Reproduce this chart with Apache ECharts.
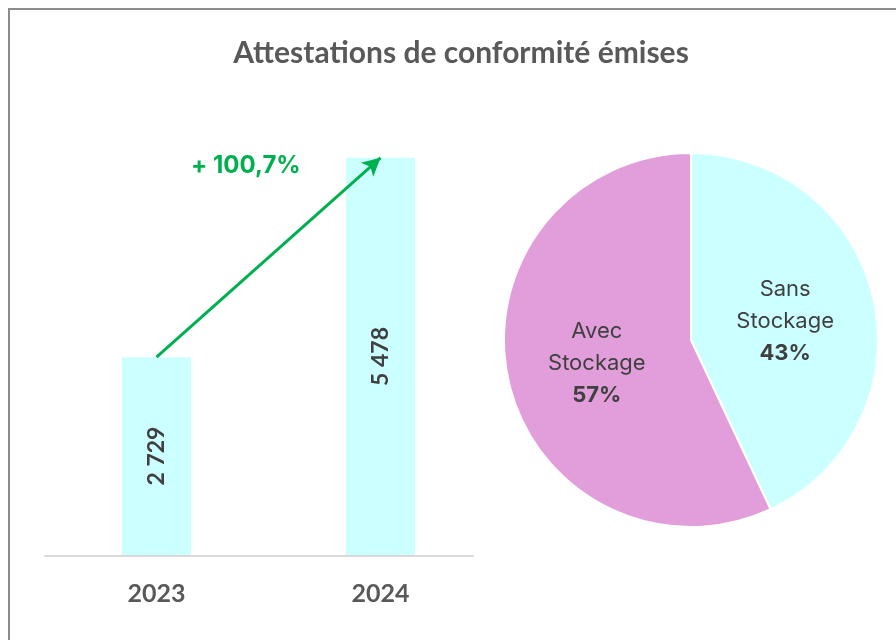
<!DOCTYPE html>
<html>
<head>
<meta charset="utf-8">
<script src="https://cdn.jsdelivr.net/npm/echarts@6/dist/echarts.min.js"></script>
<style>
  html, body { margin: 0; padding: 0; background: #ffffff; }
  #chart { width: 896px; height: 640px; }
</style>
</head>
<body>
<div id="chart"></div>
<script>
// Attestations issued per year
const years = ['2023', '2024'];
const attestations = [2729, 5478];

// Split of attestations by storage type (percent)
const storageLabels = ['Sans\nStockage', 'Avec\nStockage'];
const storageShares = [43, 57];

const titleText = 'Attestations de conformité émises';

const fmtThousands = v => String(v).replace(/\B(?=(\d{3})+(?!\d))/g, ' ');
const growth = (attestations[1] / attestations[0] - 1) * 100;
const growthText = '+ ' + growth.toFixed(1).replace('.', ',') + '%';

const labelFont = 'Lato, "Open Sans", sans-serif';
const pieFont = 'Inter, "Noto Sans", sans-serif';

const chart = echarts.init(document.getElementById('chart'), null, { renderer: 'canvas' });

chart.setOption({
  backgroundColor: '#ffffff',
  animation: false,
  title: {
    text: titleText,
    left: 456,
    textAlign: 'center',
    top: 33,
    textStyle: { fontFamily: labelFont, fontSize: 30, fontWeight: 'bold', color: '#595959' }
  },
  grid: [
    { left: 44.5, width: 448, top: 120, bottom: 85 },
    { left: 45, width: 428, top: 120, bottom: 84 }
  ],
  xAxis: [
    {
      type: 'category', data: years, gridIndex: 0,
      axisLine: { show: false }, axisTick: { show: false },
      axisLabel: { margin: 26, fontFamily: labelFont, fontSize: 25, fontWeight: 'bold', color: '#595959' }
    },
    {
      type: 'category', data: years, gridIndex: 1,
      axisLine: { show: true, lineStyle: { color: '#d9d9d9', width: 2 } },
      axisTick: { show: false }, axisLabel: { show: false }
    }
  ],
  yAxis: [
    { type: 'value', min: 0, max: 6000, gridIndex: 0, show: false },
    { type: 'value', min: 0, max: 6000, gridIndex: 1, show: false }
  ],
  series: [
    {
      type: 'bar',
      xAxisIndex: 0, yAxisIndex: 0,
      data: attestations,
      barWidth: 69,
      itemStyle: { color: '#ccffff' },
      label: {
        show: true, position: 'inside', rotate: 90,
        formatter: p => fmtThousands(p.value),
        fontFamily: labelFont, fontSize: 23, fontWeight: 'bold', color: '#404040'
      },
      markLine: {
        silent: true,
        symbol: ['none', 'arrow'],
        symbolSize: [14, 18],
        label: { show: false },
        lineStyle: { color: '#00b050', width: 3, type: 'solid' },
        data: [[
          { coord: [0, attestations[0]] },
          { coord: [1, attestations[1]] }
        ]]
      }
    },
    {
      type: 'pie',
      center: [691, 340],
      radius: 187,
      startAngle: 90,
      clockwise: true,
      data: storageLabels.map((n, i) => ({ name: n, value: storageShares[i] })),
      itemStyle: { borderColor: '#ffffff', borderWidth: 2 },
      color: ['#ccffff', '#e29edb'],
      label: {
        show: true, position: 'inside', offset: [0, 2],
        formatter: p => p.name + '\n{b|' + p.value + '%}',
        fontFamily: pieFont, fontSize: 22, color: '#404040', lineHeight: 32,
        rich: { b: { fontFamily: pieFont, fontSize: 22, fontWeight: 'bold', color: '#404040', lineHeight: 32 } }
      },
      labelLine: { show: false }
    }
  ],
  graphic: [
    {
      type: 'rect', silent: true,
      shape: { x: 9, y: 9, width: 920, height: 660 },
      style: { fill: 'none', stroke: '#8c8c8c', lineWidth: 2 }
    },
    {
      type: 'text', silent: true, x: 191, y: 166,
      style: {
        text: growthText, fontFamily: pieFont, fontSize: 24, fontWeight: 'bold',
        fill: '#00b050', align: 'left', verticalAlign: 'middle'
      }
    }
  ]
});
</script>
</body>
</html>
